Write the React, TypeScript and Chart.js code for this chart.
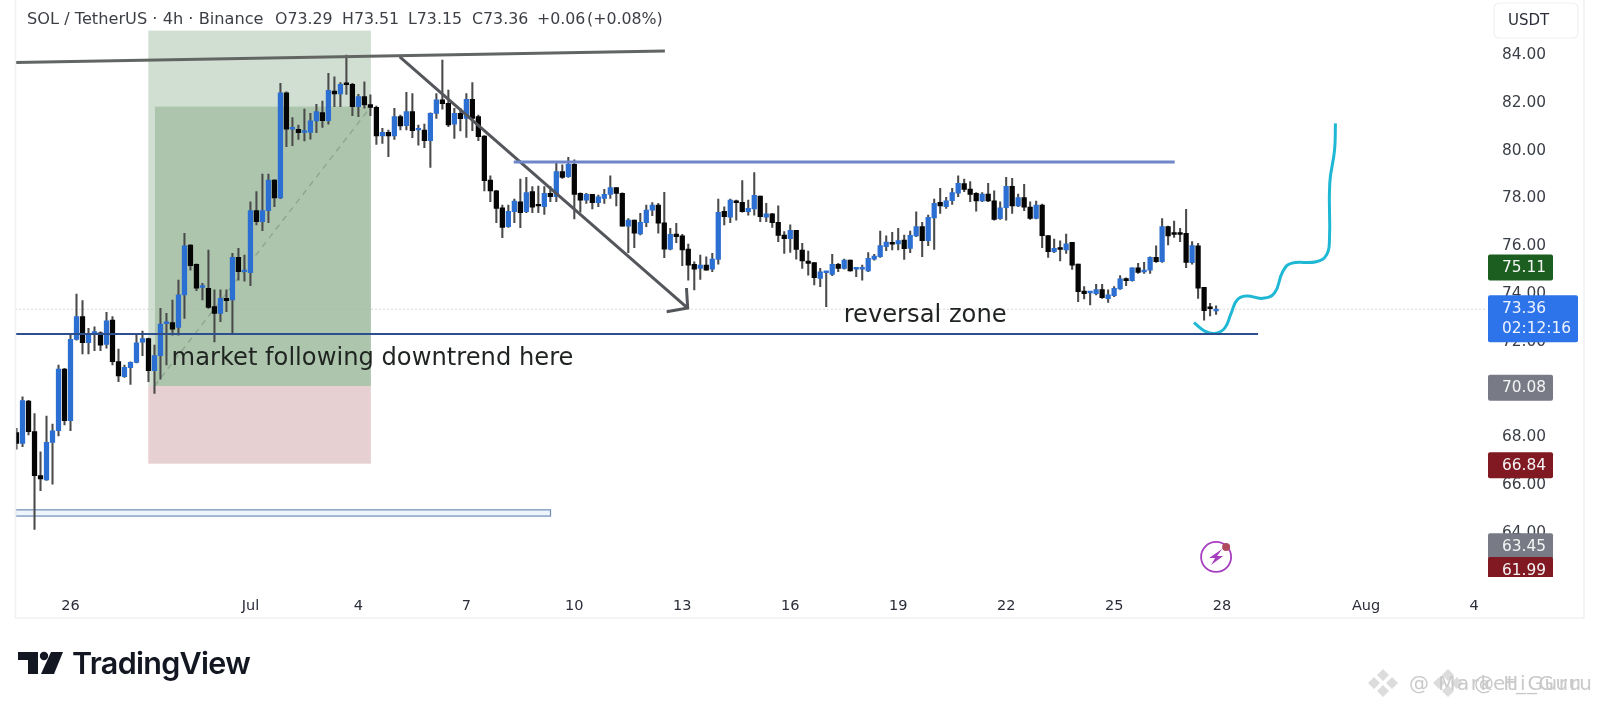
import React, { useEffect, useRef } from "react";
import { Chart, registerables } from "chart.js";

Chart.register(...registerables);

// candle index 0 = 26 Jun 00:00, one step = 4h
const firstIndex = -9;
const opens = [68.20,67.75,69.52,68.24,66.40,66.22,67.79,68.28,70.86,68.70,72.10,73.05,71.96,72.35,72.38,71.89,72.91,71.17,70.54,70.92,71.14,71.98,72.14,70.79,71.42,72.76,72.80,72.60,73.96,76.05,75.24,74.28,74.24,73.47,73.19,73.82,73.75,75.53,74.93,74.89,77.49,77.03,77.49,78.77,78.02,82.42,80.90,80.89,80.76,80.76,81.24,81.59,81.25,82.49,82.37,82.77,82.77,81.84,82.26,81.92,81.81,80.61,80.76,80.61,81.42,81.04,81.63,80.86,80.86,80.41,81.56,82.12,81.98,81.10,81.56,81.35,82.14,81.42,80.61,78.77,78.32,77.61,76.82,77.44,77.86,77.44,78.28,77.69,77.65,78.21,78.07,79.12,78.91,79.42,78.21,77.93,78.17,77.82,78.00,78.17,78.45,78.21,76.84,77.09,76.51,76.98,77.51,77.72,76.98,75.88,76.51,76.43,75.88,75.24,75.07,75.21,75.04,75.45,77.46,77.21,77.90,77.83,77.44,77.56,78.10,77.21,77.35,77.00,76.47,76.31,76.66,75.84,75.38,75.31,74.65,74.89,74.82,75.24,75.07,75.42,75.04,75.04,74.97,75.46,75.56,75.98,76.16,76.09,76.26,75.91,76.43,76.82,76.23,77.18,77.83,77.65,77.90,78.22,78.62,78.39,78.21,77.89,78.18,77.90,77.15,77.61,78.50,77.68,78.03,77.64,77.16,77.72,76.44,75.77,75.91,75.84,76.16,75.25,74.12,74.05,74.01,74.19,73.80,73.93,74.21,74.65,74.56,75.10,74.92,75.00,75.53,75.35,76.82,76.50,76.50,76.54,75.31,76.02,74.28,73.40,73.29];
const highs = [68.38,69.70,69.55,69.00,67.40,68.89,68.56,71.03,70.89,72.28,74.00,73.72,72.56,72.63,72.42,73.23,73.05,71.70,71.03,71.16,72.28,72.45,72.16,71.86,73.40,73.19,73.75,74.58,76.54,76.07,75.26,74.45,75.84,74.17,74.17,74.17,75.70,75.91,75.63,77.86,78.28,79.02,79.02,78.79,82.81,82.46,81.38,81.07,81.74,81.56,81.93,82.07,83.23,83.09,82.84,84.00,82.81,82.35,82.88,82.33,81.86,80.93,80.86,81.77,81.49,82.44,82.39,81.07,81.11,81.58,82.39,83.79,82.53,81.77,81.77,82.39,82.84,81.49,80.63,78.94,78.34,77.72,77.72,77.97,78.81,78.88,78.49,78.52,78.49,78.49,79.49,79.40,79.72,79.61,78.23,78.21,78.17,78.14,78.38,78.94,78.45,78.23,77.16,77.09,77.37,77.72,77.82,77.79,78.25,76.75,76.96,76.50,76.09,75.35,75.63,75.56,75.70,77.97,77.65,77.97,77.93,78.74,77.93,79.08,78.10,77.79,77.37,77.69,76.61,76.89,76.66,76.12,75.80,75.31,75.07,74.93,75.66,75.28,75.46,75.42,75.07,75.21,75.73,75.66,76.63,76.43,76.58,76.75,76.47,76.63,77.44,77.00,77.30,77.97,78.42,78.04,78.42,78.94,78.81,78.70,78.24,78.24,78.63,78.32,77.86,78.88,78.84,78.18,78.59,77.86,77.89,77.76,76.44,76.30,76.22,76.51,76.16,75.25,74.31,74.10,74.40,74.40,74.17,74.31,74.77,74.68,75.10,75.28,75.32,75.56,76.02,77.16,76.84,77.05,76.75,77.54,76.19,76.12,74.28,73.61,73.51];
const lows = [67.51,67.61,68.10,64.15,65.77,66.20,66.04,68.06,68.52,68.28,72.07,71.49,71.49,71.63,71.63,71.73,71.03,70.33,70.51,70.22,71.12,71.42,70.33,69.84,70.44,71.03,72.28,72.28,72.98,75.00,74.14,73.75,73.40,72.00,72.84,73.26,72.35,74.58,74.54,74.35,76.89,76.65,76.98,77.65,77.99,80.16,80.21,80.47,80.40,80.48,80.75,80.97,81.11,81.84,81.84,82.35,81.46,81.42,81.77,81.46,80.26,80.30,79.75,80.47,80.86,80.86,80.54,80.23,80.12,79.30,81.35,81.73,81.00,80.51,80.82,80.55,80.83,80.41,78.31,77.86,76.98,76.36,76.79,76.98,76.77,77.40,77.40,77.40,77.33,77.86,77.86,78.84,78.88,77.14,77.42,77.79,77.56,77.65,77.79,78.00,77.69,76.84,75.73,75.94,76.47,76.82,77.28,76.54,75.52,75.84,76.15,75.18,74.58,74.17,74.61,75.00,74.93,75.25,76.89,76.98,77.09,77.42,77.30,77.30,77.03,77.03,76.79,76.19,75.70,75.74,75.46,75.07,74.79,74.38,74.31,73.47,74.77,74.93,75.04,74.96,74.72,74.58,74.93,75.42,75.53,75.81,75.84,75.84,75.45,75.73,76.40,75.56,76.02,75.87,77.37,77.58,77.75,78.07,78.28,77.86,77.47,77.86,77.86,77.09,77.12,77.09,77.37,77.65,77.49,77.12,77.14,75.94,75.53,75.73,75.38,75.70,75.03,73.68,73.79,73.54,73.96,73.82,73.65,73.89,74.19,74.35,74.54,74.86,74.86,74.86,75.32,75.32,76.05,76.37,76.19,75.10,75.25,73.82,72.91,73.08,73.15];
const closes = [67.75,69.54,68.24,66.40,66.26,67.79,68.28,70.86,68.70,72.10,73.05,71.96,72.31,72.36,71.86,72.88,71.17,70.57,70.93,71.14,71.96,72.14,70.79,71.42,72.74,72.78,72.53,73.96,76.02,75.18,74.24,74.30,73.44,73.19,73.82,73.72,75.53,74.93,74.94,77.49,77.03,77.49,78.77,78.02,82.42,80.90,80.91,80.75,80.77,81.24,81.63,81.25,82.52,82.37,82.77,82.76,81.84,82.26,81.91,81.81,80.61,80.76,80.61,81.42,81.03,81.63,80.83,80.87,80.41,81.56,82.12,81.96,81.07,81.56,81.33,82.14,81.35,80.58,78.74,78.31,77.58,76.79,77.46,77.89,77.40,78.24,77.63,77.68,78.21,78.07,79.12,78.88,79.42,78.17,77.93,78.17,77.82,78.07,78.17,78.45,78.21,76.84,77.09,76.54,77.00,77.51,77.72,76.96,75.88,76.50,76.40,75.84,75.21,75.04,75.21,75.00,75.46,77.42,77.23,77.93,77.82,77.44,77.58,78.13,77.23,77.35,76.98,76.45,76.31,76.66,75.87,75.38,75.28,74.68,74.93,74.90,75.24,75.07,75.42,74.97,75.05,75.05,75.49,75.59,76.03,76.17,76.08,76.24,75.90,76.45,76.82,76.23,77.21,77.79,77.68,77.90,78.24,78.63,78.38,78.17,77.89,78.18,77.89,77.12,77.61,78.50,77.69,78.03,77.63,77.16,77.72,76.44,75.77,75.91,75.87,76.10,75.21,74.10,74.01,74.06,74.19,73.85,73.96,74.24,74.63,74.56,75.10,74.90,75.00,75.53,75.35,76.82,76.43,76.49,76.49,75.32,76.03,74.24,73.30,73.39,73.36];

const xTickIndex = [0, 30, 48, 66, 84, 102, 120, 138, 156, 174, 192, 216, 234];
const xTickLabels = ["26", "Jul", "4", "7", "10", "13", "16", "19", "22", "25", "28", "Aug", "4"];
const yTicks = [64, 66, 68, 70, 72, 74, 76, 78, 80, 82, 84];
const xRange = [-9.17, 236.0];
const yRange = [62.16, 86.3];

const topLineX = [-9.17, 99.1];
const topLineY = [83.68, 84.17];
const downArrowX = [54.9, 102.9];
const downArrowY = [83.92, 73.41];
const arrowHeadX = [102.7, 102.9, 99.4];
const arrowHeadY = [74.25, 73.41, 73.26];
const resistanceX = [73.9, 184.1];
const resistanceY = [79.52, 79.52];
const supportX = [-9.17, 198];
const supportY = [72.33, 72.33];
const tradeDiagonalX = [14.0, 49.9];
const tradeDiagonalY = [70.15, 81.78];
const curveX = [187.3, 189.1, 190.75, 192.4, 193.5, 194.5, 196.0, 198.8, 200.75, 202.1, 203.5, 207.7, 209.4, 209.9, 209.95, 210.75, 210.9];
const curveY = [72.8, 72.45, 72.35, 72.56, 73.19, 73.75, 73.92, 73.82, 74.05, 74.93, 75.28, 75.35, 75.63, 76.26, 78.63, 80.02, 81.14];

const lastPrice = 73.36;
const boxOuterX = [12.97, 50.08];
const boxProfitY = [85.02, 70.15];
const boxInnerX = [14.08, 50.08];
const boxInnerY = [81.84, 70.15];
const boxLossY = [70.15, 66.9];
const zoneX = [-9.17, 80.03];
const zoneY = [64.97, 64.71];

const tagValues = [75.11, 70.08, 66.84, 63.45, 61.99];
const tagLabels = ["75.11", "70.08", "66.84", "63.45", "61.99"];
const tagColors = ["#1b5e20", "#787b86", "#801922", "#787b86", "#801922"];
const priceLabel = "73.36";
const countdownLabel = "02:12:16";
const titleParts = ["SOL / TetherUS · 4h · Binance", "O73.29", "H73.51", "L73.15", "C73.36", "+0.06", "(+0.08%)"];
const titleStarts = [27, 275, 342, 408, 472, 537, 587];

const FONT = '"DejaVu Sans", sans-serif';
const pts = (xs: number[], ys: number[]) => xs.map((x, k) => ({ x, y: ys[k] }));

const overlayPlugin = {
  id: "overlay",
  beforeDatasetsDraw(chart: any) {
    const { ctx, scales: { x, y } } = chart;
    const box = (xs: number[], ys: number[], fill: string, stroke?: string) => {
      const l = x.getPixelForValue(xs[0]), r = x.getPixelForValue(xs[1]);
      const t = y.getPixelForValue(ys[0]), b = y.getPixelForValue(ys[1]);
      ctx.fillStyle = fill;
      ctx.fillRect(l, t, r - l, b - t);
      if (stroke) { ctx.strokeStyle = stroke; ctx.lineWidth = 1.2; ctx.strokeRect(l, t, r - l, b - t); }
    };
    box(boxOuterX, boxProfitY, "#d0dfd2");
    box(boxInnerX, boxInnerY, "#adc5ad");
    box(boxOuterX, boxLossY, "#e7d0d1");
    box(zoneX, zoneY, "#eef4fb", "#6f8db5");
    ctx.save();
    ctx.strokeStyle = "#b0b0b0";
    ctx.lineWidth = 1;
    ctx.setLineDash([1, 3]);
    const py = y.getPixelForValue(lastPrice);
    ctx.beginPath(); ctx.moveTo(x.left, py); ctx.lineTo(x.right, py); ctx.stroke();
    ctx.restore();
  },
  afterDraw(chart: any) {
    const { ctx, scales: { x, y }, chartArea: a } = chart;
    ctx.save();
    // pane border
    ctx.strokeStyle = "#f0f1f2";
    ctx.lineWidth = 1.5;
    ctx.beginPath();
    ctx.moveTo(a.left, 0); ctx.lineTo(a.left, 618); ctx.lineTo(1584, 618); ctx.lineTo(1584, 0);
    ctx.stroke();

    // legend line
    ctx.fillStyle = "#3c3f45";
    ctx.textAlign = "left";
    ctx.textBaseline = "alphabetic";
    titleParts.forEach((t, k) => {
      ctx.font = `${k === 0 ? 16.2 : 15.8}px ${FONT}`;
      ctx.fillText(t, titleStarts[k], 24);
    });

    // drawing labels
    ctx.fillStyle = "#1f2420";
    ctx.font = `24.2px ${FONT}`;
    ctx.fillText("market following downtrend here", x.getPixelForValue(16.85), y.getPixelForValue(71.03));
    ctx.fillText("reversal zone", x.getPixelForValue(128.9), y.getPixelForValue(72.84));

    // currency button
    ctx.fillStyle = "#fff";
    ctx.strokeStyle = "#eef0f2";
    ctx.lineWidth = 1.2;
    ctx.beginPath();
    ctx.roundRect(1494, 3, 84, 35, 5);
    ctx.fill(); ctx.stroke();
    ctx.fillStyle = "#2a2e39";
    ctx.font = `15px ${FONT}`;
    ctx.textBaseline = "middle";
    ctx.fillText("USDT", 1508, 21);

    // price tags, clipped at the bottom of the pane
    ctx.save();
    ctx.beginPath();
    ctx.rect(a.right, 0, 200, a.bottom);
    ctx.clip();
    tagValues.forEach((v, k) => {
      const c = Math.min(y.getPixelForValue(v), a.bottom - 7);
      ctx.fillStyle = tagColors[k];
      ctx.beginPath();
      ctx.roundRect(a.right + 2, c - 13, 65, 26, 2);
      ctx.fill();
      ctx.fillStyle = "#f4f4f4";
      ctx.font = `15.4px ${FONT}`;
      ctx.fillText(tagLabels[k], 1502, c + 0.5);
    });
    ctx.restore();
    const p = y.getPixelForValue(lastPrice);
    ctx.fillStyle = "#2d74ea";
    ctx.beginPath();
    ctx.roundRect(a.right + 2, p - 14, 90, 47, 2);
    ctx.fill();
    ctx.fillStyle = "#eef3ff";
    ctx.font = `15.4px ${FONT}`;
    ctx.fillText(priceLabel, 1502, p);
    ctx.fillText(countdownLabel, 1502, p + 20);

    // flash icon
    const ix = x.getPixelForValue(191), iy = y.getPixelForValue(63.0);
    ctx.strokeStyle = "#a63fbf";
    ctx.lineWidth = 1.8;
    ctx.beginPath(); ctx.arc(ix, iy, 15, 0, Math.PI * 2); ctx.stroke();
    ctx.fillStyle = "#a63fbf";
    ctx.beginPath();
    ctx.moveTo(ix + 6, iy - 8); ctx.lineTo(ix - 7, iy + 1); ctx.lineTo(ix - 1, iy + 1);
    ctx.lineTo(ix - 5, iy + 8); ctx.lineTo(ix + 7, iy - 1); ctx.lineTo(ix + 1, iy - 1);
    ctx.closePath(); ctx.fill();
    ctx.fillStyle = "#b04a5e";
    ctx.beginPath(); ctx.arc(ix + 10, iy - 10, 4, 0, Math.PI * 2); ctx.fill();
    ctx.restore();
  },
};

export default function App() {
  const ref = useRef<HTMLCanvasElement>(null);
  useEffect(() => {
    const idx = opens.map((_, k) => firstIndex + k);
    const line = (label: string, xs: number[], ys: number[], color: string, width: number, extra: any = {}) => ({
      type: "line" as const, label, data: pts(xs, ys), borderColor: color, borderWidth: width,
      pointRadius: 0, tension: 0, order: 1, ...extra,
    });
    const chart = new Chart(ref.current!, {
      type: "bar",
      data: {
        datasets: [
          line("trade path", tradeDiagonalX, tradeDiagonalY, "#8fa58f", 1.4, { borderDash: [6, 5], order: 5 }),
          line("support", supportX, supportY, "#2d4f8e", 2),
          line("resistance", resistanceX, resistanceY, "#6f86c8", 3),
          line("top trend", topLineX, topLineY, "#626663", 3),
          line("down trend", downArrowX, downArrowY, "#53565b", 3),
          line("arrow head", arrowHeadX, arrowHeadY, "#53565b", 3),
          line("projection", curveX, curveY, "#1fb8d4", 3, { tension: 0.45 }),
          {
            type: "bar" as const, label: "wicks", order: 4, grouped: false, barThickness: 1.4,
            data: idx.map((x, k) => ({ x, y: [lows[k], highs[k]] })),
            backgroundColor: "#4a4a4a",
          },
          {
            type: "bar" as const, label: "bodies", order: 3, grouped: false, barThickness: 4.6, minBarLength: 1.8,
            data: idx.map((x, k) => ({ x, y: [opens[k], closes[k]] })),
            backgroundColor: idx.map((_, k) => (closes[k] >= opens[k] ? "#2c6fd2" : "#050505")),
          },
        ] as any,
      },
      options: {
        responsive: false,
        animation: false,
        layout: { autoPadding: false, padding: { left: 15.5, right: 16, top: 0, bottom: 90 } },
        plugins: { legend: { display: false }, tooltip: { enabled: false } },
        scales: {
          x: {
            type: "linear",
            bounds: "data",
            offset: false,
            min: xRange[0],
            max: xRange[1],
            grid: { display: false, offset: false },
            border: { display: false },
            afterBuildTicks: (s: any) => { s.ticks = xTickIndex.map((value) => ({ value })); },
            afterFit: (s: any) => { s.height = 41; s.paddingLeft = 0; s.paddingRight = 0; },
            ticks: {
              autoSkip: false, maxRotation: 0, padding: 13,
              color: "#2a2e39", font: { family: "DejaVu Sans", size: 14.5 },
              callback: (v: any) => xTickLabels[xTickIndex.indexOf(v)],
            },
          },
          y: {
            position: "right",
            bounds: "data",
            beginAtZero: false,
            min: yRange[0],
            max: yRange[1],
            grid: { display: false },
            border: { display: false },
            afterBuildTicks: (s: any) => { s.ticks = yTicks.map((value) => ({ value })); },
            afterFit: (s: any) => { s.width = 98; s.paddingTop = 0; s.paddingBottom = 0; },
            ticks: {
              autoSkip: false, padding: 8, color: "#3a3e46",
              font: { family: "DejaVu Sans", size: 15.4 },
              callback: (v: any) => Number(v).toFixed(2),
            },
          },
        },
      },
      plugins: [overlayPlugin],
    } as any);
    return () => chart.destroy();
  }, []);

  const wm: React.CSSProperties = { position: "absolute", top: 671, fontFamily: FONT, fontSize: 20, color: "#c9c9c9", whiteSpace: "nowrap", letterSpacing: 1.5 };
  const diamond = (left: number) => (
    <svg style={{ position: "absolute", left, top: 668 }} width="30" height="30" viewBox="0 0 30 30">
      <path d="M15 1l6 6-6 6-6-6zM6 9l6 6-6 6-6-6zM24 9l6 6-6 6-6-6zM15 17l6 6-6 6-6-6z" fill="#dcdcdc" />
    </svg>
  );
  return (
    <div style={{ position: "absolute", left: 0, top: 0, width: 1600, height: 708, background: "#fff", overflow: "hidden" }}>
      <canvas ref={ref} width={1600} height={708} style={{ position: "absolute", left: 0, top: 0 }} />
      <svg style={{ position: "absolute", left: 18, top: 651 }} width="46" height="24" viewBox="0 0 46 24">
        <path d="M0 1h20v22h-10V9H0z" fill="#131722" />
        <circle cx="26" cy="5" r="4.2" fill="#131722" />
        <path d="M33 1h12l-9 22H23z" fill="#131722" />
      </svg>
      <div style={{ position: "absolute", left: 72, top: 644, fontFamily: "Inter, sans-serif", fontWeight: 600, fontSize: 30.5, color: "#131722", letterSpacing: -0.7 }}>TradingView</div>
      {diamond(1368)}
      {diamond(1433)}
      <div style={{ ...wm, left: 1409 }}>@ Market_Guru</div>
      <div style={{ ...wm, left: 1474 }}>@ Hi_Guru</div>
    </div>
  );
}
